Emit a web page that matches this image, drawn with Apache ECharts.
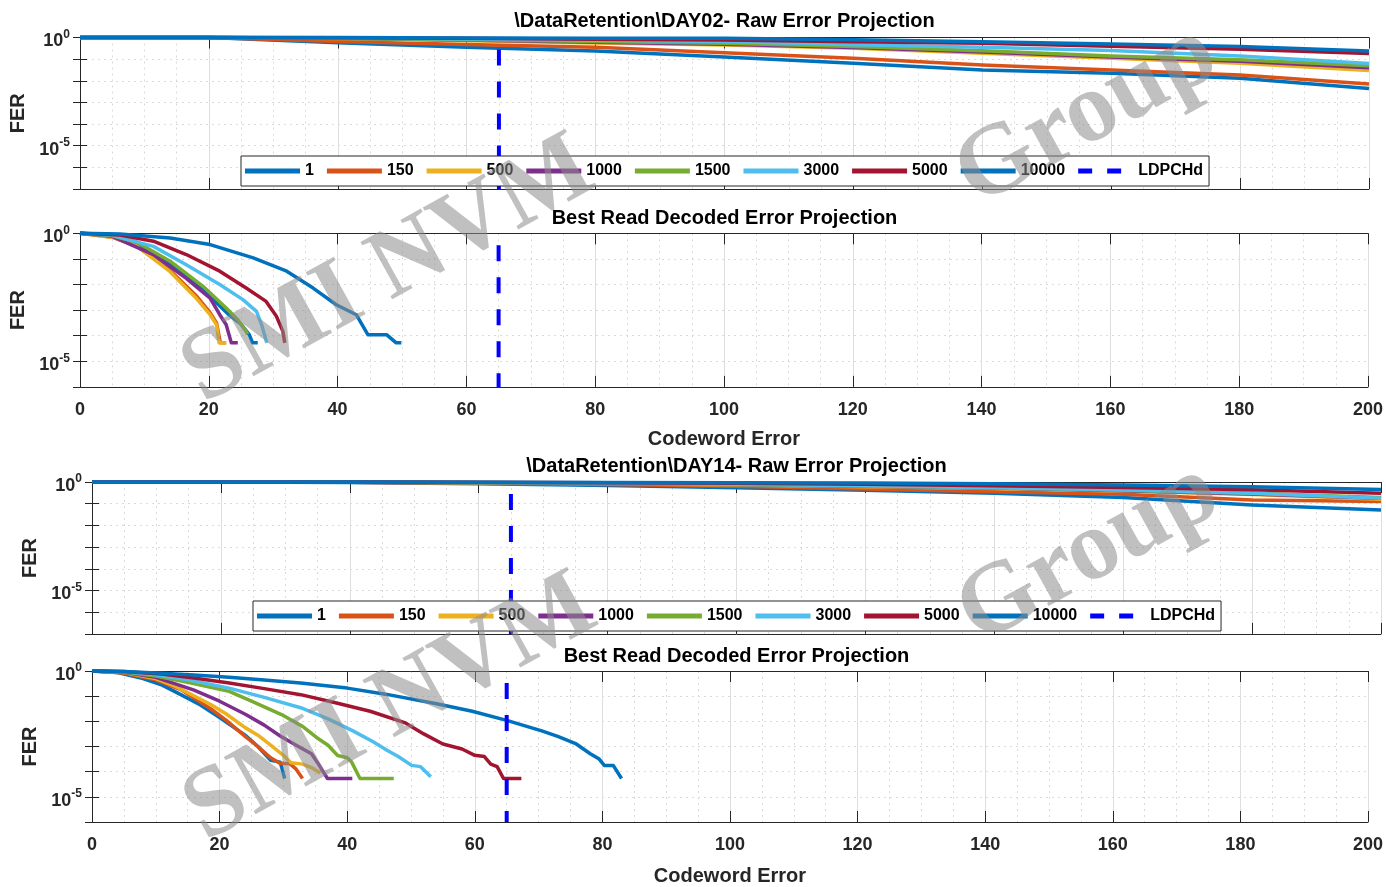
<!DOCTYPE html>
<html>
<head>
<meta charset="utf-8">
<title>Data Retention Error Projection</title>
<script src="https://cdn.jsdelivr.net/npm/echarts/dist/echarts.min.js"></script>
<style>
  html, body { margin: 0; padding: 0; background: #fff; }
  #main { width: 1386px; height: 887px; }
</style>
</head>
<body>
<div id="main"></div>
<script>
/* 曲线名称与颜色 (MATLAB 默认配色) */
var seriesNames = ['1', '150', '500', '1000', '1500', '3000', '5000', '10000'];
var seriesColors = ['#0072BD', '#D95319', '#EDB120', '#7E2F8E', '#77AC30', '#4DBEEE', '#A2142F', '#0072BD'];
var ldpcLimit = 65;

/* 原始误差投影: x 点与各曲线 FER 的指数 (log10) */
var rawX = [0, 20, 40, 60, 80, 100, 120, 140, 160, 180, 200];
var day02Raw = [
    [0, 0, -0.24, -0.45, -0.62, -0.90, -1.19, -1.50, -1.65, -1.88, -2.36],
    [0, 0, -0.18, -0.32, -0.45, -0.70, -0.96, -1.27, -1.50, -1.73, -2.15],
    [0, 0, -0.05, -0.15, -0.25, -0.35, -0.50, -0.73, -0.96, -1.19, -1.52],
    [0, 0, -0.04, -0.12, -0.22, -0.31, -0.46, -0.67, -0.90, -1.10, -1.40],
    [0, 0, -0.03, -0.10, -0.18, -0.27, -0.42, -0.61, -0.85, -1.03, -1.30],
    [0, 0, -0.02, -0.07, -0.13, -0.19, -0.33, -0.45, -0.60, -0.85, -1.20],
    [0, 0, -0.01, -0.04, -0.08, -0.12, -0.20, -0.27, -0.40, -0.54, -0.74],
    [0, 0, 0, -0.02, -0.03, -0.04, -0.10, -0.20, -0.30, -0.42, -0.62]
];
var day14Raw = [
    [0, 0, -0.02, -0.08, -0.16, -0.26, -0.38, -0.52, -0.71, -1.06, -1.29],
    [0, 0, -0.01, -0.06, -0.12, -0.20, -0.32, -0.45, -0.57, -0.83, -0.90],
    [0, 0, -0.01, -0.04, -0.08, -0.14, -0.22, -0.30, -0.42, -0.58, -0.80],
    [0, 0, -0.01, -0.03, -0.07, -0.12, -0.20, -0.28, -0.40, -0.55, -0.75],
    [0, 0, 0, -0.03, -0.06, -0.11, -0.18, -0.27, -0.38, -0.52, -0.72],
    [0, 0, 0, -0.02, -0.05, -0.10, -0.17, -0.26, -0.37, -0.52, -0.75],
    [0, 0, 0, -0.01, -0.03, -0.06, -0.10, -0.17, -0.25, -0.36, -0.52],
    [0, 0, 0, -0.01, -0.02, -0.03, -0.05, -0.08, -0.14, -0.22, -0.34]
];

/* 最佳读译码误差投影: [codeword error, log10(FER)] */
var day02Dec = [
    [[0,0],[5,-0.1],[9,-0.4],[14,-1.23],[19.1,-2.2],[23.2,-3.2],[25,-3.55],[26.3,-3.97],[26.8,-4.28],[27.6,-4.28]],
    [[0,0],[5,-0.15],[8.8,-0.5],[14,-1.45],[18.1,-2.45],[20.2,-3.1],[21.2,-3.5],[21.8,-4.28],[22.7,-4.28]],
    [[0,0],[5,-0.15],[8.8,-0.5],[14,-1.5],[18.1,-2.55],[20.2,-3.18],[21.2,-3.57],[21.6,-4.28],[22.7,-4.28]],
    [[0,0],[5,-0.12],[11.4,-0.83],[16.5,-1.76],[20.2,-2.53],[21.7,-3.18],[22.7,-3.57],[23.5,-4.28],[24.5,-4.28]],
    [[0,0],[5,-0.1],[8.8,-0.34],[14,-1.09],[19.1,-2.07],[22.7,-2.92],[24.5,-3.38],[25.8,-3.83],[26,-3.95]],
    [[0,0],[5,-0.08],[11.4,-0.51],[16.5,-1.23],[21.7,-2.0],[25.3,-2.59],[27.4,-3.05],[28.2,-3.57],[29,-4.28]],
    [[0,0],[6.2,-0.07],[11.4,-0.31],[16.5,-0.83],[21.7,-1.48],[25.8,-2.14],[28.9,-2.66],[30.5,-3.24],[31.5,-3.83],[31.8,-4.28]],
    [[0,0],[6.2,-0.03],[14,-0.18],[20.2,-0.44],[26.9,-0.96],[32.1,-1.48],[36.2,-2.14],[39.8,-2.79],[42.9,-3.18],[44.7,-3.96],[47.6,-3.96],[49.1,-4.28],[49.9,-4.28]]
];
var day14Dec = [
    [[0,0],[4,-0.06],[8,-0.3],[11,-0.56],[14,-0.95],[17,-1.35],[20,-1.85],[22,-2.2],[24,-2.55],[26,-3.0],[28,-3.55],[29.5,-3.62],[30.2,-4.27]],
    [[0,0],[5,-0.08],[10,-0.35],[14,-0.75],[18.6,-1.5],[21,-1.95],[24,-2.6],[26,-3.0],[28,-3.45],[29.5,-3.68],[31,-3.68],[32,-3.9],[33,-4.27]],
    [[0,0],[5,-0.06],[10,-0.3],[13,-0.6],[18.6,-1.33],[21,-1.7],[24,-2.25],[26,-2.55],[28,-2.95],[30,-3.35],[31.2,-3.65],[33,-3.7],[34.5,-3.85],[35.8,-4.05]],
    [[0,0],[5,-0.05],[10,-0.25],[15.9,-0.75],[20,-1.2],[24.1,-1.73],[27,-2.15],[29.5,-2.58],[32,-2.95],[34.4,-3.29],[35.5,-3.7],[36.9,-4.27],[40.8,-4.27]],
    [[0,0],[5,-0.04],[10,-0.2],[15,-0.45],[21.5,-0.81],[25,-1.2],[29.7,-1.73],[33,-2.2],[35.2,-2.64],[37,-2.95],[38.5,-3.36],[40,-3.45],[40.7,-3.62],[42,-4.27],[47.3,-4.27]],
    [[0,0],[5,-0.03],[10,-0.15],[15,-0.35],[21.5,-0.68],[27,-1.05],[32.7,-1.46],[37,-1.9],[40.9,-2.38],[44,-2.8],[46.3,-3.16],[48,-3.4],[50.1,-3.75],[51.5,-3.8],[53.1,-4.2]],
    [[0,0],[5,-0.02],[10.9,-0.12],[16,-0.28],[21.5,-0.48],[27,-0.7],[32.7,-0.94],[38,-1.25],[43.6,-1.6],[49,-2.05],[52,-2.5],[55,-2.9],[58,-3.1],[60,-3.35],[61.5,-3.4],[62.5,-3.7],[63.5,-3.8],[64.5,-4.27],[67.3,-4.27]],
    [[0,0],[5,-0.02],[10.9,-0.09],[16,-0.16],[21.5,-0.25],[27,-0.36],[32.7,-0.48],[40,-0.68],[46,-0.92],[54,-1.3],[59.6,-1.6],[65,-1.96],[70.5,-2.38],[73,-2.6],[75.9,-2.9],[78.1,-3.29],[79.5,-3.5],[80.3,-3.75],[81.7,-3.75],[83,-4.27]]
];

var titles = [
    '\\DataRetention\\DAY02- Raw Error Projection',
    'Best Read Decoded Error Projection',
    '\\DataRetention\\DAY14- Raw Error Projection',
    'Best Read Decoded Error Projection'
];

var FONT = '"Liberation Sans", Arial, Helvetica, sans-serif';
var AXC = '#262626';

/* 四个子图的位置 */
var grids = [
    { left: 80, right: 17, top: 37.5, height: 151.5, yMin: 1e-7, labels: false },
    { left: 80, right: 17, top: 233.3, height: 153.6, yMin: 1e-6, labels: true },
    { left: 92, right: 5, top: 482, height: 151.9, yMin: 1e-7, labels: false },
    { left: 92, right: 5, top: 671, height: 153.6, yMin: 1e-6, labels: true }
];
var titleTops = [11, 208, 456, 646];

function rawPairs(arr) {
    return rawX.map(function (x, k) { return [x, Math.pow(10, arr[k])]; });
}
function decPairs(arr) {
    return arr.map(function (p) { return [p[0], Math.pow(10, p[1])]; });
}

var option = {
    backgroundColor: '#fff',
    animation: false,
    textStyle: { fontFamily: FONT },
    title: [],
    grid: [],
    xAxis: [],
    yAxis: [],
    legend: [],
    series: [],
    graphic: []
};

grids.forEach(function (g, gi) {
    option.grid.push({ left: g.left, right: g.right, top: g.top, height: g.height, containLabel: false });
    option.title.push({
        text: titles[gi], left: g.left + (1386 - g.left - g.right) / 2, top: titleTops[gi],
        textAlign: 'center', padding: 0,
        textStyle: { fontFamily: FONT, fontSize: 20, fontWeight: 'bold', color: '#000' }
    });
    /*底部 x 轴*/
    option.xAxis.push({
        gridIndex: gi, type: 'value', min: 0, max: 200, interval: 20,
        name: g.labels ? 'Codeword Error' : '', nameLocation: 'middle', nameGap: gi === 3 ? 44 : 43,
        nameTextStyle: { fontFamily: FONT, fontSize: 20, fontWeight: 'bold', color: AXC },
        axisLine: { lineStyle: { color: AXC, width: 1 } },
        axisTick: { inside: true, length: 11, lineStyle: { color: AXC } },
        axisLabel: { show: g.labels, margin: 14, fontFamily: FONT, fontSize: 18, fontWeight: 'bold', color: AXC },
        splitLine: { show: true, lineStyle: { color: '#dedede', width: 1 } },
        minorTick: { show: false, splitNumber: 4 },
        minorSplitLine: { show: true, lineStyle: { color: '#dadada', type: [2, 4], width: 1 } }
    });
    /*左侧 y 轴 (对数)*/
    option.yAxis.push({
        gridIndex: gi, type: 'log', logBase: 10, min: g.yMin, max: 1, interval: 1,
        name: 'FER', nameLocation: 'middle', nameGap: 50,
        nameTextStyle: { fontFamily: FONT, fontSize: 20, fontWeight: 'bold', color: AXC },
        axisLine: { show: true, lineStyle: { color: AXC, width: 1 } },
        axisTick: { show: true, inside: true, length: 7, lineStyle: { color: AXC } },
        axisLabel: {
            margin: 10,
            formatter: function (v) {
                var e = Math.round(Math.log10(v));
                if (e === 0 || e === -5) return '{b|10}{s|' + e + '}';
                return '';
            },
            rich: {
                b: { fontFamily: FONT, fontSize: 18, fontWeight: 'bold', color: AXC, padding: [8, 0, 0, 0] },
                s: { fontFamily: FONT, fontSize: 12, fontWeight: 'bold', color: AXC, verticalAlign: 'bottom', padding: [0, 0, 10, 0] }
            }
        },
        splitLine: { show: true, lineStyle: { color: '#dadada', type: [2, 4], width: 1 } }
    });
});
/*上方和右侧的边框轴*/
grids.forEach(function (g, gi) {
    option.xAxis.push({
        gridIndex: gi, type: 'value', position: 'top', min: 0, max: 200, interval: 20,
        axisLine: { show: true, lineStyle: { color: AXC, width: 1 } },
        axisTick: { inside: true, length: 11, lineStyle: { color: AXC } },
        axisLabel: { show: false }, splitLine: { show: false }
    });
    option.yAxis.push({
        gridIndex: gi, type: 'log', logBase: 10, position: 'right', min: g.yMin, max: 1, interval: 1,
        axisLine: { show: true, lineStyle: { color: AXC, width: 1 } },
        axisTick: { show: true, inside: true, length: 7, lineStyle: { color: AXC } },
        axisLabel: { show: false }, splitLine: { show: false }
    });
});

var allData = [day02Raw.map(rawPairs), day02Dec.map(decPairs), day14Raw.map(rawPairs), day14Dec.map(decPairs)];

allData.forEach(function (sets, gi) {
    sets.forEach(function (d, i) {
        option.series.push({
            type: 'line', name: seriesNames[i], xAxisIndex: gi, yAxisIndex: gi,
            data: d, symbol: 'none', showSymbol: false, clip: false, silent: true,
            color: seriesColors[i],
            itemStyle: { color: seriesColors[i] },
            lineStyle: { width: 3.5, color: seriesColors[i], join: 'round' },
            z: 3
        });
    });
    /*LDPC 硬判决门限*/
    option.series.push({
        type: 'line', name: 'LDPCHd', xAxisIndex: gi, yAxisIndex: gi,
        data: [[ldpcLimit, 1], [ldpcLimit, grids[gi].yMin]],
        symbol: 'none', showSymbol: false, silent: true, color: '#0000FF',
        itemStyle: { color: '#0000FF' },
        lineStyle: { width: 4, color: '#0000FF', type: [16, 16], dashOffset: 20 },
        markLine: {
            silent: true, symbol: ['none', 'none'], label: { show: false },
            lineStyle: { color: '#dedede', type: 'solid', width: 1 },
            data: [{ yAxis: 1e-5 }]
        },
        z: 3
    });
});

/*图例*/
var legendItems = seriesNames.map(function (n) { return { name: n, icon: 'rect' }; });
legendItems.push({ name: 'LDPCHd', icon: 'path://M0,0H14V5H0Z M29,0H43V5H29Z M54.9,0H55V0.1H54.9Z' });
[[241, 156], [253, 601]].forEach(function (pos) {
    option.legend.push({
        data: legendItems, left: pos[0], top: pos[1], orient: 'horizontal',
        itemWidth: 55, itemHeight: 5, itemGap: 13,
        padding: [6, 6, 6, 4], backgroundColor: '#fff', borderColor: AXC, borderWidth: 1, borderRadius: 0,
        selectedMode: false,
        itemStyle: { borderWidth: 0 },
        lineStyle: { width: 0 },
        textStyle: { fontFamily: FONT, fontSize: 16, fontWeight: 'bold', color: '#000', lineHeight: 18 }
    });
});

/*水印*/
var wmStyle = { font: 'bold 100px "Liberation Serif", "DejaVu Serif", serif', fill: 'rgba(140,140,140,0.55)', align: 'left', verticalAlign: 'bottom' };
[[0, 0], [2, 438]].forEach(function (off) {
    option.graphic.push({
        type: 'text', x: 215 + off[0], y: 425 + off[1], rotation: 0.506, z: 100, silent: true,
        style: Object.assign({ text: 'SMI NVM' }, wmStyle)
    });
    option.graphic.push({
        type: 'text', x: 988 + off[0], y: 228 + off[1], rotation: 0.506, z: 100, silent: true,
        style: Object.assign({ text: 'Group' }, wmStyle)
    });
});

var chart = echarts.init(document.getElementById('main'), null, { renderer: 'canvas' });
chart.setOption(option);
</script>
</body>
</html>
